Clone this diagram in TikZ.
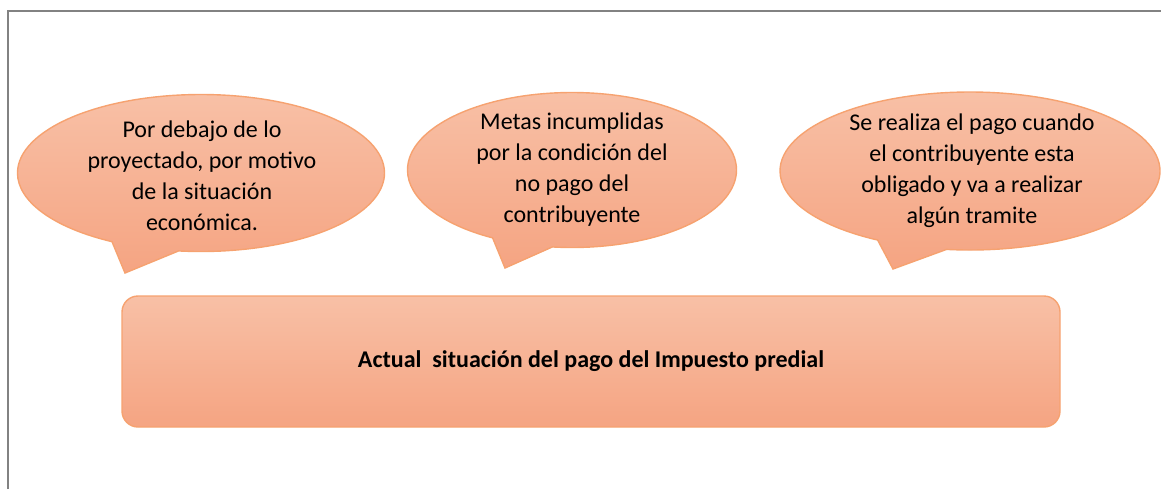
\documentclass[tikz,border=0pt]{standalone}
\usepackage{fontspec}
\setmainfont{Carlito}
\usetikzlibrary{positioning, shapes.callouts}
\definecolor{peachtop}{RGB}{248,192,166}
\definecolor{peachbot}{RGB}{245,164,130}
\definecolor{peachline}{RGB}{246,162,112}
\definecolor{framegray}{RGB}{130,130,130}

\begin{document}
\begin{tikzpicture}[x=.5pt, y=-.5pt,
        bubble/.style={ellipse callout, draw=peachline, line width=.7pt, top color=peachtop, bottom color=peachbot, callout pointer arc=22},
        txt/.style={align=center, inner sep=0pt, font=\fontsize{12}{15.5}\selectfont}]

        \useasboundingbox (0,0) rectangle (1161,489);

        %FRAME
        \coordinate (fbl) at (8,489);
        \coordinate (ftl) at (8,11);
        \coordinate (ftr) at (1161,11);
        \draw[framegray, line width=1pt] (fbl) -- (ftl) -- (ftr);

        %POINTER TIPS
        \coordinate (tip1) at (125,273);
        \coordinate (tip2) at (505,268);
        \coordinate (tip3) at (893,269);

        %BUBBLES
        \node[bubble, minimum width=183.5pt, minimum height=78.5pt, callout absolute pointer=(tip1)] (ec) at (201,173) {};
        \node[txt] (ectext) at (202,176) {Por debajo de lo\\proyectado, por motivo\\de la situación\\económica.};

        \node[bubble, minimum width=164.5pt, minimum height=77.5pt, callout absolute pointer=(tip2)] (metas) at (572,170) {};
        \node[txt] (metastext) at (572,170) {Metas incumplidas\\por la condición del\\no pago del\\contribuyente};

        \node[bubble, minimum width=190pt, minimum height=79pt, callout absolute pointer=(tip3)] (pago) at (970,171) {};
        \node[txt] (pagotext) at (972,171) {Se realiza el pago cuando\\el contribuyente esta\\obligado y va a realizar\\algún tramite};

        %MAIN BOX
        \node[draw=peachline, line width=.7pt, top color=peachtop, bottom color=peachbot, rounded corners=8pt,
              minimum width=469pt, minimum height=65.5pt, font=\fontsize{12}{15.5}\selectfont\bfseries] (actual) at (591,361.5)
              {Actual\ \ situación del pago del Impuesto predial};

\end{tikzpicture}
\end{document}
